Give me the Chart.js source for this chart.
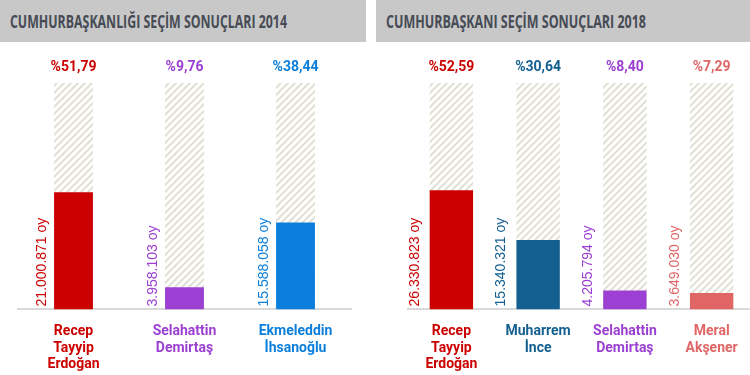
<!DOCTYPE html>
<html>
<head>
<meta charset="utf-8">
<script src="https://cdn.jsdelivr.net/npm/chart.js@4.4.1/dist/chart.umd.min.js"></script>
<style>
  html, body { margin: 0; padding: 0; background: #fff; overflow: hidden; width: 750px; height: 375px; }
  .panel { position: absolute; top: 0; height: 375px; }
  .head { height: 42px; background: #c8c8c8; overflow: hidden; white-space: nowrap; }
  .head span { display: inline-block; color: #464b55; font: bold 18px "Open Sans", sans-serif;
               line-height: 42px; margin-left: 10px; transform-origin: 0 50%; }
  .box { position: relative; height: 333px; }
</style>
</head>
<body>
<div class="panel" style="left:0;width:366px">
  <div class="head"><span data-w="277">CUMHURBAŞKANLIĞI SEÇİM SONUÇLARI 2014</span></div>
  <div class="box"><canvas id="c2014"></canvas></div>
</div>
<div class="panel" style="left:376px;width:380px">
  <div class="head"><span data-w="260">CUMHURBAŞKANI SEÇİM SONUÇLARI 2018</span></div>
  <div class="box"><canvas id="c2018"></canvas></div>
</div>
<script>
// 2014 data
var names2014 = [['Recep', 'Tayyip', 'Erdoğan'], ['Selahattin', 'Demirtaş'], ['Ekmeleddin', 'İhsanoğlu']];
var pct2014 = [51.79, 9.76, 38.44];
var votes2014 = [21000871, 3958103, 15588058];
var colors2014 = ['#cc0000', '#9b40d2', '#0b7fdb'];

// 2018 data
var names2018 = [['Recep', 'Tayyip', 'Erdoğan'], ['Muharrem', 'İnce'], ['Selahattin', 'Demirtaş'], ['Meral', 'Akşener']];
var pct2018 = [52.59, 30.64, 8.40, 7.29];
var votes2018 = [26330823, 15340321, 4205794, 3649030];
var colors2018 = ['#cc0000', '#135f8f', '#9b40d2', '#e06666'];

var full = 100;

// squeeze the header text to the narrow look of the original
document.querySelectorAll('.head span').forEach(function(s) {
  var w = s.getBoundingClientRect().width;
  s.style.transform = 'scaleX(' + (Number(s.dataset.w) / w) + ')';
});

function hatch() {
  var s = 7;
  var c = document.createElement('canvas');
  c.width = s; c.height = s;
  var x = c.getContext('2d');
  x.fillStyle = '#ffffff';
  x.fillRect(0, 0, s, s);
  x.strokeStyle = '#e2dfd5';
  x.lineWidth = 2;
  x.beginPath();
  x.moveTo(0, s); x.lineTo(s, 0);
  x.moveTo(-1, 1); x.lineTo(1, -1);
  x.moveTo(s - 1, s + 1); x.lineTo(s + 1, s - 1);
  x.stroke();
  return x.createPattern(c, 'repeat');
}

function fmtVotes(v) {
  return String(v).replace(/\B(?=(\d{3})+(?!\d))/g, '.') + ' oy';
}
function fmtPct(v) {
  return '%' + v.toFixed(2).replace('.', ',');
}

var labelsPlugin = {
  id: 'barLabels',
  afterDatasetsDraw: function(chart, args, opts) {
    var ctx = chart.ctx;
    var meta = chart.getDatasetMeta(0);
    var ys = chart.scales.y;
    var topY = ys.getPixelForValue(full);
    var baseY = ys.getPixelForValue(0);
    ctx.save();
    meta.data.forEach(function(bar, i) {
      var col = opts.colors[i];
      ctx.fillStyle = col;
      ctx.font = 'bold 14px Roboto';
      ctx.textAlign = 'center';
      ctx.textBaseline = 'middle';
      ctx.fillText(fmtPct(opts.pct[i]), bar.x, topY - 16);

      ctx.save();
      ctx.translate(bar.x - bar.width / 2 - opts.gap, baseY - 3);
      ctx.rotate(-Math.PI / 2);
      ctx.font = '14px "Liberation Sans"';
      ctx.textAlign = 'left';
      ctx.textBaseline = 'middle';
      ctx.fillText(fmtVotes(opts.votes[i]), 0, 0);
      ctx.restore();
    });
    ctx.restore();
  }
};

function makeChart(id, names, pct, votes, colors, barPct, pad, gap) {
  var bg = hatch();
  return new Chart(document.getElementById(id), {
    type: 'bar',
    data: {
      labels: names,
      datasets: [{
        data: pct,
        backgroundColor: colors,
        grouped: false,
        order: 0
      }, {
        data: pct.map(function() { return full; }),
        backgroundColor: bg,
        grouped: false,
        order: 1
      }]
    },
    options: {
      responsive: true,
      maintainAspectRatio: false,
      animation: false,
      barPercentage: barPct,
      categoryPercentage: 1,
      layout: { padding: pad },
      plugins: {
        legend: { display: false },
        tooltip: { enabled: false },
        barLabels: { pct: pct, votes: votes, colors: colors, gap: gap }
      },
      scales: {
        y: { display: false, min: 0, max: full },
        x: {
          grid: { display: false, drawTicks: false },
          border: { display: true, color: '#d9d9d9', width: 2 },
          ticks: {
            padding: 14,
            font: { family: 'Roboto', size: 14, weight: 'bold', lineHeight: 1.18 },
            color: function(c) { return colors[c.index]; }
          }
        }
      }
    },
    plugins: [labelsPlugin]
  });
}

makeChart('c2014', names2014, pct2014, votes2014, colors2014, 0.35, { top: 41, left: 18, right: 15, bottom: -12 }, 12);
makeChart('c2018', names2018, pct2018, votes2018, colors2018, 0.5, { top: 41, left: 32, right: 1, bottom: -12 }, 15);
</script>
</body>
</html>
